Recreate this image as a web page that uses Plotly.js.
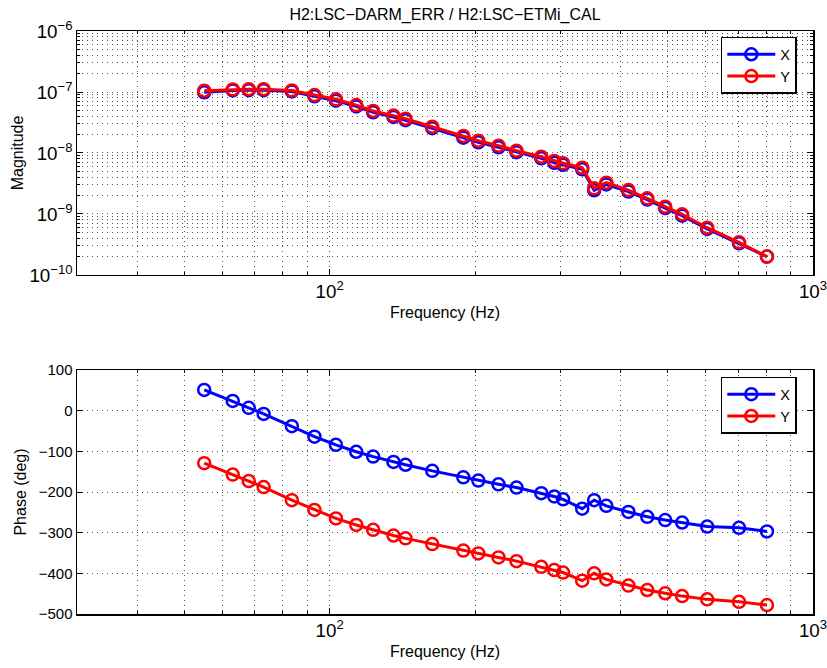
<!DOCTYPE html>
<html>
<head>
<meta charset="utf-8">
<script src="https://cdn.plot.ly/plotly-3.0.1.min.js"></script>
<style>html,body{margin:0;padding:0;background:#fff;}#chart{width:827px;height:668px;}</style>
</head>
<body>
<div id="chart"></div>
<script>
// Frequencies (Hz)
var freq = [55, 63, 68, 73, 83.5, 93, 103, 113.5, 123, 135.5, 143.5, 163, 189, 203, 223.5, 243.5, 274, 291.5, 304, 333, 352.5, 373.5, 415, 454, 494.5, 536, 604, 703, 803];
// Magnitude
var magX = [0.99e-7, 1.06e-7, 1.07e-7, 1.07e-7, 1.02e-7, 0.85e-7, 0.72e-7, 5.8e-8, 4.65e-8, 3.9e-8, 3.45e-8, 2.55e-8, 1.78e-8, 1.5e-8, 1.24e-8, 1.03e-8, 8.2e-9, 6.9e-9, 6.4e-9, 5.4e-9, 2.45e-9, 3.05e-9, 2.33e-9, 1.72e-9, 1.25e-9, 0.94e-9, 5.7e-10, 3.3e-10, 2.0e-10];
var magY = [1.05e-7, 1.1e-7, 1.11e-7, 1.11e-7, 1.06e-7, 0.89e-7, 0.76e-7, 6.1e-8, 4.9e-8, 4.1e-8, 3.65e-8, 2.7e-8, 1.9e-8, 1.59e-8, 1.32e-8, 1.09e-8, 8.7e-9, 7.4e-9, 6.8e-9, 5.75e-9, 2.64e-9, 3.26e-9, 2.47e-9, 1.81e-9, 1.32e-9, 0.99e-9, 5.96e-10, 3.43e-10, 2.0e-10];
// Phase (deg)
var phaseX = [51, 24, 7, -8, -38, -64, -84, -101, -113, -126, -133, -148, -164, -172, -181, -189, -203, -211, -218, -241, -220, -234, -249, -261, -269, -275, -285, -288, -297];
var phaseY = [-129, -157, -173, -188, -220, -244, -265, -281, -293, -307, -314, -328, -344, -351, -361, -370, -384, -392, -398, -418, -400, -415, -430, -441, -449, -456, -464, -470, -478];

var seriesNames = ['X', 'Y'];
var colors = ['#0000ff', '#ff0000'];

function tr(y, i, xa, ya, leg) {
  return {
    x: freq, y: y, xaxis: xa, yaxis: ya, name: seriesNames[i], legend: leg,
    type: 'scatter', mode: 'lines+markers',
    line: {color: colors[i], width: 3},
    marker: {symbol: 'circle-open', size: 12, color: colors[i], line: {width: 2.5, color: colors[i]}}
  };
}

var data = [
  tr(magX, 0, 'x', 'y', 'legend'),
  tr(magY, 1, 'x', 'y', 'legend'),
  tr(phaseX, 0, 'x2', 'y2', 'legend2'),
  tr(phaseY, 1, 'x2', 'y2', 'legend2')
];

var FAM = 'Liberation Sans, Arial, Helvetica, sans-serif';
var tickF = {family: FAM, size: 15, color: '#000'};
var titleF = {family: FAM, size: 16, color: '#000'};
var legF = {family: FAM, size: 14.5, color: '#000'};
var GRIDC = '#555';
var DASH = '1px,4px';
var gridMinor = {showgrid: true, gridcolor: GRIDC, griddash: DASH, gridwidth: 1, ticks: 'inside', ticklen: 3, tickcolor: '#000'};

function xax(anchor) {
  return {
    type: 'log', range: [Math.log10(30), 3], dtick: 1, anchor: anchor, domain: [0, 1],
    exponentformat: 'power', showexponent: 'all', ticklabeloverflow: 'allow',
    showline: true, linecolor: '#000', linewidth: 1.5, mirror: 'ticks',
    ticks: 'inside', ticklen: 6, tickcolor: '#000', tickwidth: 1,
    showgrid: true, gridcolor: GRIDC, griddash: DASH, gridwidth: 1,
    minor: Object.assign({dtick: 'D1'}, gridMinor),
    zeroline: false, tickfont: tickF,
    title: {text: 'Frequency (Hz)', font: titleF, standoff: 5}
  };
}

var layout = {
  width: 827, height: 668,
  margin: {l: 77, r: 14, t: 31, b: 54},
  paper_bgcolor: '#fff', plot_bgcolor: '#fff',
  font: tickF,
  showlegend: true,
  title: {text: 'H2:LSC\u2212DARM_ERR / H2:LSC\u2212ETMi_CAL', font: titleF, x: 0.5, xref: 'paper', xanchor: 'center', y: 0.979, yanchor: 'middle'},
  xaxis: xax('y'),
  xaxis2: xax('y2'),
  yaxis: {
    type: 'log', range: [-10, -6], dtick: 1, domain: [0.5815, 1], anchor: 'x',
    exponentformat: 'power', showexponent: 'all',
    showline: true, linecolor: '#000', linewidth: 1.5, mirror: 'ticks',
    ticks: 'inside', ticklen: 6, tickcolor: '#000',
    showgrid: true, gridcolor: GRIDC, griddash: DASH, gridwidth: 1,
    minor: Object.assign({dtick: 'D1'}, gridMinor),
    zeroline: false, tickfont: tickF,
    title: {text: 'Magnitude', font: titleF, standoff: 2}
  },
  yaxis2: {
    range: [-500, 100], dtick: 100, domain: [0, 0.4185], anchor: 'x2',
    showline: true, linecolor: '#000', linewidth: 1.5, mirror: 'ticks',
    ticks: 'inside', ticklen: 6, tickcolor: '#000',
    showgrid: true, gridcolor: GRIDC, griddash: DASH, gridwidth: 1,
    zeroline: false, tickfont: tickF,
    title: {text: 'Phase (deg)', font: titleF, standoff: 8}
  },
  legend: {x: 0.978, xanchor: 'right', y: 0.99, yanchor: 'top', bgcolor: '#fff', bordercolor: '#000', borderwidth: 1.5, font: legF, itemwidth: 48, tracegroupgap: 0},
  legend2: {x: 0.978, xanchor: 'right', y: 0.407, yanchor: 'top', bgcolor: '#fff', bordercolor: '#000', borderwidth: 1.5, font: legF, itemwidth: 48, tracegroupgap: 0}
};

Plotly.newPlot('chart', data, layout, {displayModeBar: false, staticPlot: true});
</script>
</body>
</html>
